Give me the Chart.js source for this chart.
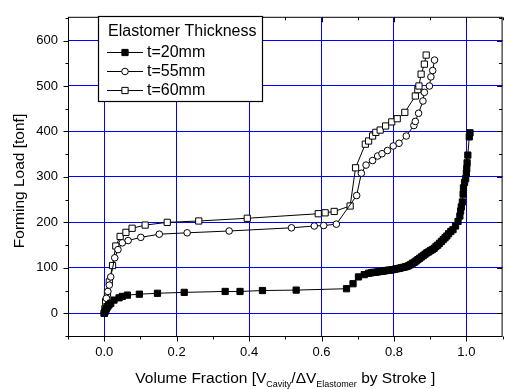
<!DOCTYPE html>
<html lang="en">
<head>
<meta charset="UTF-8">
<title>Forming Load vs Volume Fraction</title>
<script src="https://cdn.jsdelivr.net/npm/chart.js"></script>
<style>
    html, body { margin: 0; padding: 0; background: #fff; }
    canvas { display: block; }
</style>
</head>
<body>
<canvas id="chart" width="508" height="389"></canvas>
<script>
// tick values
const xTicks = [0, 0.2, 0.4, 0.6, 0.8, 1.0];
const xMinor = [-0.1, 0.1, 0.3, 0.5, 0.7, 0.9, 1.1];
const yTicks = [0, 100, 200, 300, 400, 500, 600];
const yMinor = [-50, 50, 150, 250, 350, 450, 550, 650];

const seriesNames = ['t=20mm', 't=55mm', 't=60mm'];

// t=20mm
const x20 = [0.000, 0.002, 0.004, 0.006, 0.009, 0.013, 0.018, 0.027, 0.041, 0.050, 0.064, 0.097, 0.147, 0.221,
    0.334, 0.375, 0.437, 0.530, 0.669, 0.687, 0.702, 0.718, 0.730, 0.737, 0.743, 0.749, 0.755, 0.761, 0.767,
    0.773, 0.779, 0.785, 0.791, 0.797, 0.803, 0.809, 0.815, 0.820, 0.826, 0.831, 0.836, 0.841, 0.846, 0.851,
    0.856, 0.861, 0.866, 0.871, 0.876, 0.881, 0.886, 0.891, 0.896, 0.901, 0.906, 0.911, 0.916, 0.921, 0.926,
    0.931, 0.936, 0.941, 0.946, 0.951, 0.957, 0.963, 0.970, 0.977, 0.982, 0.984, 0.986, 0.989, 0.991, 0.992,
    0.995, 0.998, 1.000, 1.001, 1.002, 1.004, 1.008, 1.010];
const y20 = [0, 3, 6, 10, 14, 18, 22, 29, 34, 37, 40, 42, 44, 46,
    48, 48, 50, 51, 54, 65, 80, 85, 88, 89, 90, 90, 91, 92, 92,
    93, 94, 95, 95, 96, 97, 98, 99, 100, 101, 102, 103, 105, 107, 110,
    112, 115, 118, 121, 124, 127, 130, 133, 135, 138, 140, 143, 147, 150, 154,
    158, 162, 166, 170, 175, 180, 184, 192, 202, 214, 225, 234, 245, 262, 276,
    288, 296, 308, 318, 331, 348, 388, 397];

// t=55mm
const x55 = [0.000, 0.002, 0.004, 0.006, 0.010, 0.014, 0.018, 0.029, 0.038, 0.050, 0.066, 0.101, 0.152, 0.229,
    0.345, 0.517, 0.580, 0.606, 0.641, 0.697, 0.710, 0.723, 0.741, 0.755, 0.767, 0.782, 0.798, 0.814, 0.834,
    0.855, 0.859, 0.868, 0.880, 0.884, 0.898, 0.902, 0.907, 0.912];
const y55 = [0, 6, 15, 33, 48, 62, 80, 122, 140, 155, 160, 167, 174, 177,
    181, 188, 192, 193, 196, 259, 308, 326, 336, 346, 351, 358, 368, 374, 390,
    413, 422, 440, 467, 486, 500, 520, 534, 557];

// t=60mm
const x60 = [0.000, 0.002, 0.004, 0.009, 0.014, 0.023, 0.032, 0.044, 0.060, 0.077, 0.113, 0.174, 0.261, 0.395,
    0.591, 0.610, 0.635, 0.679, 0.694, 0.721, 0.730, 0.741, 0.750, 0.762, 0.777, 0.794, 0.809, 0.830, 0.859,
    0.866, 0.869, 0.875, 0.884, 0.889];
const y60 = [0, 10, 26, 44, 69, 105, 148, 169, 178, 187, 194, 200, 203, 209,
    219, 221, 224, 236, 320, 372, 379, 390, 398, 403, 412, 421, 428, 442, 478,
    492, 500, 526, 548, 568];

const FONT = '"Liberation Sans", Arial, sans-serif';

function pts(xs, ys) {
    return xs.map((v, i) => ({ x: v, y: ys[i] }));
}

const markers = [
    { style: 'rect', fill: '#000', radius: 4.4 },
    { style: 'circle', fill: '#fff', radius: 3.3 },
    { style: 'rect', fill: '#fff', radius: 4.4 }
];

function drawMarker(ctx, m, x, y) {
    ctx.beginPath();
    if (m.style === 'circle') {
        ctx.arc(x, y, m.radius, 0, Math.PI * 2);
    } else {
        const s = m.radius * Math.SQRT1_2;
        ctx.rect(x - s, y - s, 2 * s, 2 * s);
    }
    ctx.fillStyle = m.fill;
    ctx.fill();
    ctx.strokeStyle = '#000';
    ctx.lineWidth = 1;
    ctx.stroke();
}

// frame, ticks, axis titles and the boxed legend
const framePlugin = {
    id: 'frame',
    afterDraw(chart) {
        const { ctx, chartArea: a, scales: { x, y } } = chart;
        const L = a.left + 0.5, R = a.right - 0.5, T = a.top - 0.5, B = a.bottom + 0.5;
        ctx.save();
        ctx.strokeStyle = '#000';
        ctx.lineWidth = 1;
        ctx.strokeRect(L, T, R - L, B - T);

        ctx.beginPath();
        const tick = (vals, len) => {
            vals.forEach(v => {
                const px = Math.round(x.getPixelForValue(v)) + 0.5;
                ctx.moveTo(px, B); ctx.lineTo(px, B + len);      // bottom, outward
                ctx.moveTo(px, T); ctx.lineTo(px, T + len);      // top, inward
            });
        };
        const tickY = (vals, len) => {
            vals.forEach(v => {
                const py = Math.round(y.getPixelForValue(v)) + 0.5;
                ctx.moveTo(L, py); ctx.lineTo(L - len, py);      // left, outward
                ctx.moveTo(R, py); ctx.lineTo(R - len, py);      // right, inward
            });
        };
        tick(xTicks, 5); tick(xMinor, 3);
        tickY(yTicks, 5); tickY(yMinor, 3);
        ctx.stroke();

        // y title
        ctx.fillStyle = '#000';
        ctx.save();
        ctx.translate(20, 181);
        ctx.rotate(-Math.PI / 2);
        ctx.font = '15.5px ' + FONT;
        ctx.textAlign = 'center';
        ctx.textBaseline = 'middle';
        ctx.fillText('Forming Load [tonf]', 0, 0);
        ctx.restore();

        // x title with subscripts
        const parts = [
            ['Volume Fraction [V', 15.5, 0],
            ['Cavity', 9, 4],
            ['/\u0394V', 15.5, 0],
            ['Elastomer', 9, 4],
            [' by Stroke ]', 15.5, 0]
        ];
        let total = 0;
        parts.forEach(p => { ctx.font = p[1] + 'px ' + FONT; total += ctx.measureText(p[0]).width; });
        let cx = (a.left + a.right) / 2 - total / 2;
        const base = 383;
        ctx.textAlign = 'left';
        ctx.textBaseline = 'alphabetic';
        parts.forEach(p => {
            ctx.font = p[1] + 'px ' + FONT;
            ctx.fillText(p[0], cx, base + p[2]);
            cx += ctx.measureText(p[0]).width;
        });

        // legend
        const box = { l: 98, t: 16, r: 262, b: 101 };
        ctx.fillStyle = '#fff';
        ctx.fillRect(box.l, box.t, box.r - box.l, box.b - box.t);
        ctx.strokeStyle = '#000';
        ctx.lineWidth = 1.2;
        ctx.strokeRect(box.l + 0.5, box.t + 0.5, box.r - box.l, box.b - box.t);
        ctx.fillStyle = '#000';
        ctx.font = '16px ' + FONT;
        ctx.textBaseline = 'middle';
        ctx.fillText('Elastomer Thickness', 108, 32);
        seriesNames.forEach((name, i) => {
            const ly = 52 + i * 19;
            ctx.beginPath();
            ctx.moveTo(107, ly + 0.5); ctx.lineTo(143, ly + 0.5);
            ctx.strokeStyle = '#000';
            ctx.lineWidth = 1;
            ctx.stroke();
            drawMarker(ctx, markers[i], 125, ly + 0.5);
            ctx.fillStyle = '#000';
            ctx.font = '16px ' + FONT;
            ctx.fillText(name, 147, ly + 1);
        });
        ctx.restore();
    }
};

const dataSets = [[x20, y20], [x55, y55], [x60, y60]].map((d, i) => ({
    label: seriesNames[i],
    data: pts(d[0], d[1]),
    showLine: true,
    borderColor: '#000',
    borderWidth: 1,
    pointStyle: markers[i].style,
    pointRadius: markers[i].radius,
    pointBackgroundColor: markers[i].fill,
    pointBorderColor: '#000',
    pointBorderWidth: 1,
    tension: 0
}));

new Chart(document.getElementById('chart'), {
    type: 'scatter',
    data: { datasets: dataSets },
    options: {
        responsive: false,
        animation: false,
        devicePixelRatio: 1,
        layout: { padding: { left: 0, top: 8, right: 0, bottom: 0 } },
        plugins: { legend: { display: false }, tooltip: { enabled: false } },
        scales: {
            x: {
                type: 'linear',
                min: -0.1,
                max: 1.1,
                afterBuildTicks: s => { s.ticks = xTicks.map(v => ({ value: v })); },
                afterFit: s => { s.height = 53; },
                ticks: {
                    color: '#000',
                    font: { family: FONT, size: 13 },
                    padding: 9,
                    maxRotation: 0,
                    autoSkip: false,
                    callback: v => v.toFixed(1)
                },
                grid: { color: '#0000ff', lineWidth: 1, drawTicks: false },
                border: { display: false }
            },
            y: {
                min: -50,
                max: 650,
                afterBuildTicks: s => { s.ticks = yTicks.map(v => ({ value: v })); },
                afterFit: s => { s.width = 68; },
                ticks: {
                    color: '#000',
                    font: { family: FONT, size: 13 },
                    padding: 10,
                    autoSkip: false,
                    callback: v => String(v)
                },
                grid: { color: '#0000ff', lineWidth: 1, drawTicks: false },
                border: { display: false }
            }
        }
    },
    plugins: [framePlugin]
});
</script>
</body>
</html>
